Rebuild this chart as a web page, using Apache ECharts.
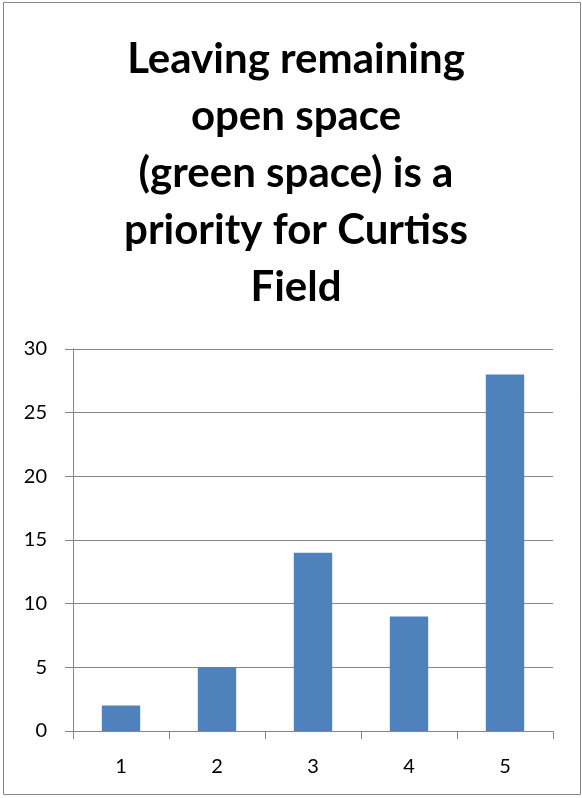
<!DOCTYPE html>
<html>
<head>
<meta charset="utf-8">
<script src="https://cdn.jsdelivr.net/npm/echarts@6/dist/echarts.min.js"></script>
<style>
  html, body { margin: 0; padding: 0; background: #fff; }
  #chart { width: 582px; height: 798px; }
</style>
</head>
<body>
<div id="chart"></div>
<script>
var titleText = "Leaving remaining\nopen space\n(green space) is a\npriority for Curtiss\nField";
var categories = ["1", "2", "3", "4", "5"];
var values = [2, 5, 14, 9, 28];
var yMin = 0, yMax = 30, yStep = 5;

var lineColor = "#868686";
var chart = echarts.init(document.getElementById("chart"));
var option = {
  animation: false,
  backgroundColor: "#fff",
  graphic: [
    {
      type: "rect",
      shape: { x: 3.5, y: 2.5, width: 577, height: 792 },
      style: { fill: "none", stroke: lineColor, lineWidth: 1 },
      silent: true
    }
  ],
  title: {
    text: titleText,
    left: 291,
    top: 26,
    textAlign: "center",
    textStyle: {
      fontFamily: "Lato",
      fontWeight: "bold",
      fontSize: 42,
      lineHeight: 57,
      color: "#000"
    }
  },
  grid: { left: 73, right: 29, top: 349, bottom: 67 },
  xAxis: {
    type: "category",
    data: categories,
    axisLine: { lineStyle: { color: lineColor, width: 1 } },
    axisTick: { show: true, length: 8, lineStyle: { color: lineColor } },
    axisLabel: { color: "#000", fontFamily: "Lato", fontSize: 20, margin: 26 }
  },
  yAxis: {
    type: "value",
    min: yMin,
    max: yMax,
    interval: yStep,
    axisLine: { show: true, lineStyle: { color: lineColor, width: 1 } },
    axisTick: { show: true, length: 8, lineStyle: { color: lineColor } },
    splitLine: { show: true, lineStyle: { color: lineColor, width: 1 } },
    axisLabel: { color: "#000", fontFamily: "Lato", fontSize: 20, margin: 26 }
  },
  series: [
    {
      type: "bar",
      data: values,
      barWidth: "40%",
      itemStyle: { color: "#4F81BD" }
    }
  ]
};
chart.setOption(option);
</script>
</body>
</html>
